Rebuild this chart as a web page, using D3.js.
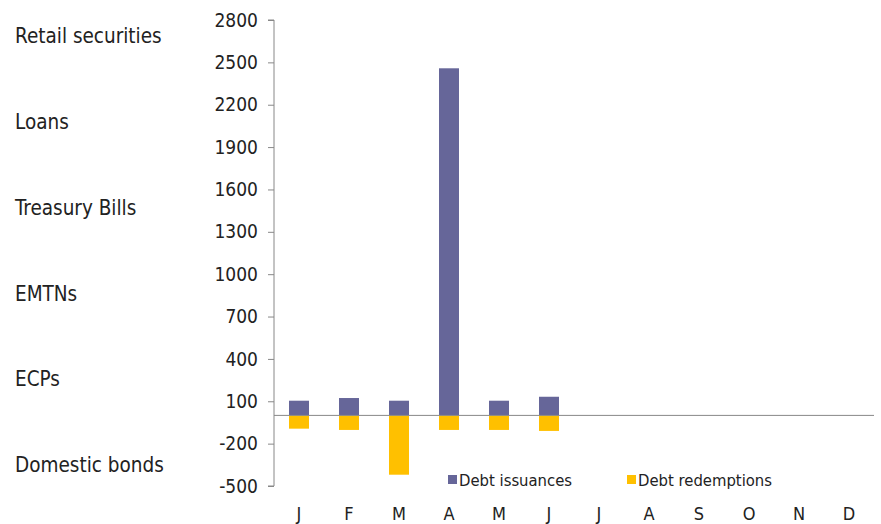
<!DOCTYPE html>
<html>
<head>
<meta charset="utf-8">
<script src="https://cdn.jsdelivr.net/npm/d3@7"></script>
<style>
  body { margin: 0; background: #fff; }
  text { font-family: "DejaVu Sans Condensed", "Liberation Sans", sans-serif; fill: #222; }
</style>
</head>
<body>
<svg id="chart" width="881" height="524"></svg>
<script>
// data
var months = ["J", "F", "M", "A", "M", "J", "J", "A", "S", "O", "N", "D"];
var issuances = [104, 123, 104, 2458, 104, 132];
var redemptions = [-94, -103, -420, -103, -103, -110];
var instruments = ["Retail securities", "Loans", "Treasury Bills", "EMTNs", "ECPs", "Domestic bonds"];
var yTicks = [-500, -200, 100, 400, 700, 1000, 1300, 1600, 1900, 2200, 2500, 2800];

var svg = d3.select("#chart");
var plotLeft = 274, plotRight = 874, plotTop = 20, plotBottom = 486;

var x = d3.scaleBand()
  .domain(d3.range(months.length))
  .range([plotLeft, plotRight])
  .paddingInner(0.6)
  .paddingOuter(0.3);

var y = d3.scaleLinear()
  .domain([-500, 2800])
  .range([plotBottom, plotTop]);

// left side instrument labels
var yCat = d3.scalePoint()
  .domain(instruments)
  .range([36, 465]);

svg.selectAll("text.inst")
  .data(instruments)
  .enter().append("text")
    .attr("class", "inst")
    .attr("x", 15)
    .attr("y", function(d) { return yCat(d); })
    .attr("dy", "0.35em")
    .style("font-size", "20.5px")
    .text(function(d) { return d; });

// y axis (plain hyphen for negatives, like the original)
var yAxis = d3.axisLeft(y)
  .tickValues(yTicks)
  .tickSize(6)
  .tickPadding(10)
  .tickFormat(function(d) { return String(d); });

var ga = svg.append("g")
  .attr("transform", "translate(" + plotLeft + ",0)")
  .call(yAxis);
ga.select(".domain").attr("stroke", "#888").attr("d", "M-6," + plotTop + "H0V" + plotBottom + "H-6");
ga.selectAll(".tick line").attr("stroke", "#888");
ga.selectAll(".tick text")
  .style("font-size", "19px")
  .style("fill", "#222")
  .attr("font-family", null);

// bars
svg.selectAll("rect.iss")
  .data(issuances)
  .enter().append("rect")
    .attr("class", "iss")
    .attr("x", function(d, i) { return x(i); })
    .attr("width", x.bandwidth())
    .attr("y", function(d) { return y(d); })
    .attr("height", function(d) { return y(0) - y(d); })
    .attr("fill", "#666699");

svg.selectAll("rect.red")
  .data(redemptions)
  .enter().append("rect")
    .attr("class", "red")
    .attr("x", function(d, i) { return x(i); })
    .attr("width", x.bandwidth())
    .attr("y", y(0))
    .attr("height", function(d) { return y(d) - y(0); })
    .attr("fill", "#FFC000");

// zero line
svg.append("line")
  .attr("x1", plotLeft).attr("x2", plotRight)
  .attr("y1", y(0)).attr("y2", y(0))
  .attr("stroke", "#888")
  .attr("stroke-width", 1);

// month labels
svg.selectAll("text.month")
  .data(months)
  .enter().append("text")
    .attr("class", "month")
    .attr("x", function(d, i) { return x(i) + x.bandwidth() / 2; })
    .attr("y", 514)
    .attr("dy", "0.35em")
    .attr("text-anchor", "middle")
    .style("font-size", "18px")
    .text(function(d) { return d; });

// legend
var legend = [
  {label: "Debt issuances", color: "#666699", x: 448},
  {label: "Debt redemptions", color: "#FFC000", x: 627}
];
var lg = svg.selectAll("g.legend")
  .data(legend)
  .enter().append("g")
    .attr("class", "legend")
    .attr("transform", function(d) { return "translate(" + d.x + ",480)"; });
lg.append("rect")
  .attr("x", 0).attr("y", -5)
  .attr("width", 9).attr("height", 9)
  .attr("fill", function(d) { return d.color; });
lg.append("text")
  .attr("x", 11)
  .attr("y", 0)
  .attr("dy", "0.35em")
  .style("font-size", "16.5px")
  .text(function(d) { return d.label; });
</script>
</body>
</html>
